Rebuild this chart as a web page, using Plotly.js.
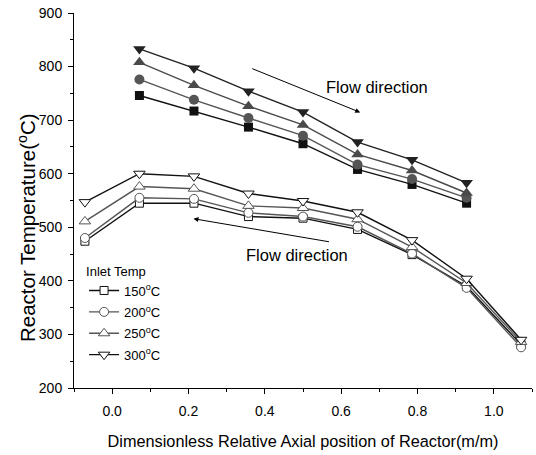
<!DOCTYPE html>
<html>
<head>
<meta charset="utf-8">
<script src="https://cdn.plot.ly/plotly-3.0.1.min.js"></script>
<style>html,body{margin:0;padding:0;background:#fff;}#chart{width:536px;height:455px;}</style>
</head>
<body>
<div id="chart"></div>
<script>
// Axial positions
const xFull = [-0.0714, 0.0714, 0.2143, 0.3571, 0.5, 0.6429, 0.7857, 0.9286, 1.0714];
const xInner = [0.0714, 0.2143, 0.3571, 0.5, 0.6429, 0.7857, 0.9286];

// Upper (filled) series
const up150 = [746, 717, 687, 656, 608, 580, 545];
const up200 = [776, 738, 704, 671, 617, 590, 555];
const up250 = [808, 765, 726, 691, 636, 606, 564];
const up300 = [833, 797, 754, 715, 659, 626, 583];

// Lower (open) series
const lo150 = [474, 545, 545, 520, 517, 496, 449, 390, 281];
const lo200 = [480, 555, 553, 527, 520, 501, 451, 387, 276];
const lo250 = [511, 576, 572, 540, 536, 515, 463, 396, 286];
const lo300 = [547, 600, 595, 563, 549, 528, 476, 404, 290];

const legendNames = ['150<sup>o</sup>C', '200<sup>o</sup>C', '250<sup>o</sup>C', '300<sup>o</sup>C'];

const FONT = 'Liberation Sans, Arial, sans-serif';
const cBlack = '#111111', cGray = '#555555', cGray2 = '#4a4a4a';
const sizes = {'square': 8, 'circle': 9, 'triangle-up': 10, 'triangle-down': 10};

function filled(y, color, sym) {
  return {x: xInner, y: y, mode: 'lines+markers', showlegend: false,
    line: {color: color, width: 1.4},
    marker: {symbol: sym, size: sizes[sym] + 1, color: color, line: {width: 0}}};
}
function openS(y, color, sym, name, grp) {
  return {x: xFull, y: y, mode: 'lines+markers', name: name, legendgroup: grp,
    line: {color: color, width: 1.4},
    marker: {symbol: sym, size: sizes[sym], color: '#ffffff', line: {color: color, width: 1}}};
}

const data = [
  filled(up150, cBlack, 'square'),
  filled(up200, cGray, 'circle'),
  filled(up250, cGray2, 'triangle-up'),
  filled(up300, '#222222', 'triangle-down'),
  openS(lo150, cBlack, 'square', legendNames[0], 'a'),
  openS(lo200, cGray, 'circle', legendNames[1], 'b'),
  openS(lo250, cGray, 'triangle-up', legendNames[2], 'c'),
  openS(lo300, cBlack, 'triangle-down', legendNames[3], 'd')
];

const layout = {
  width: 536, height: 455,
  margin: {l: 73.5, r: 4.3, t: 13.3, b: 66.7},
  paper_bgcolor: '#fff', plot_bgcolor: '#fff',
  font: {family: FONT, color: '#000', size: 13},
  showlegend: true,
  legend: {x: 0.022, y: 0.345, xanchor: 'left', yanchor: 'top',
    bgcolor: 'rgba(0,0,0,0)', font: {size: 13, family: FONT},
    title: {text: 'Inlet Temp', font: {size: 13, family: FONT}},
    tracegroupgap: 1.5, itemwidth: 30},
  xaxis: {range: [-0.1, 1.1], tickvals: [0, 0.2, 0.4, 0.6, 0.8, 1.0],
    ticktext: ['0.0', '0.2', '0.4', '0.6', '0.8', '1.0'],
    ticks: 'outside', ticklen: 5, tickwidth: 1, tickcolor: '#000', ticklabelstandoff: 5,
    minor: {dtick: 0.1, tick0: 0, ticks: 'outside', ticklen: 3, tickcolor: '#000'},
    showline: true, linecolor: '#000', linewidth: 1, showgrid: false, zeroline: false,
    tickfont: {size: 14, family: FONT},
    title: {text: 'Dimensionless Relative Axial position of Reactor(m/m)', font: {size: 16.3, family: FONT}, standoff: 17}},
  yaxis: {range: [200, 900], dtick: 100, tick0: 200,
    ticks: 'outside', ticklen: 5, tickwidth: 1, tickcolor: '#000', ticklabelstandoff: 3,
    minor: {dtick: 50, tick0: 200, ticks: 'outside', ticklen: 3, tickcolor: '#000'},
    showline: true, linecolor: '#000', linewidth: 1, showgrid: false, zeroline: false,
    tickfont: {size: 14, family: FONT}},
  xaxis2: {overlaying: 'x', side: 'top', range: [-0.1, 1.1], tickvals: [0, 0.2, 0.4, 0.6, 0.8, 1.0],
    showticklabels: false, ticks: 'inside', ticklen: 5, tickcolor: '#000',
    minor: {dtick: 0.1, tick0: 0, ticks: 'inside', ticklen: 3, tickcolor: '#000'},
    showline: true, linecolor: '#000', showgrid: false, zeroline: false},
  yaxis2: {overlaying: 'y', side: 'right', range: [200, 900], dtick: 100, tick0: 200,
    showticklabels: false, ticks: 'inside', ticklen: 5, tickcolor: '#000',
    minor: {dtick: 50, tick0: 200, ticks: 'inside', ticklen: 3, tickcolor: '#000'},
    showline: true, linecolor: '#000', showgrid: false, zeroline: false},
  annotations: [
    {x: -0.104, y: 0.4275, xref: 'paper', yref: 'paper', xanchor: 'center', yanchor: 'middle',
     text: 'Reactor Temperature(<sup>o</sup>C)', textangle: -90, showarrow: false,
     font: {size: 20.5, family: FONT}},
    {x: 0.650, y: 714.5, ax: 0.363, ay: 797.3, xref: 'x', yref: 'y', axref: 'x', ayref: 'y',
     text: '', showarrow: true, arrowhead: 2, arrowsize: 1, arrowwidth: 1, arrowcolor: '#000'},
    {x: 0.695, y: 762.5, xref: 'x', yref: 'y', text: 'Flow direction', showarrow: false,
     font: {size: 16.5, family: FONT}},
    {x: 0.213, y: 516, ax: 0.572, ay: 472.5, xref: 'x', yref: 'y', axref: 'x', ayref: 'y',
     text: '', showarrow: true, arrowhead: 2, arrowsize: 1, arrowwidth: 1, arrowcolor: '#000'},
    {x: 0.485, y: 448.8, xref: 'x', yref: 'y', text: 'Flow direction', showarrow: false,
     font: {size: 16.5, family: FONT}}
  ]
};

Plotly.newPlot('chart', data, layout, {displayModeBar: false, staticPlot: true});
</script>
</body>
</html>
